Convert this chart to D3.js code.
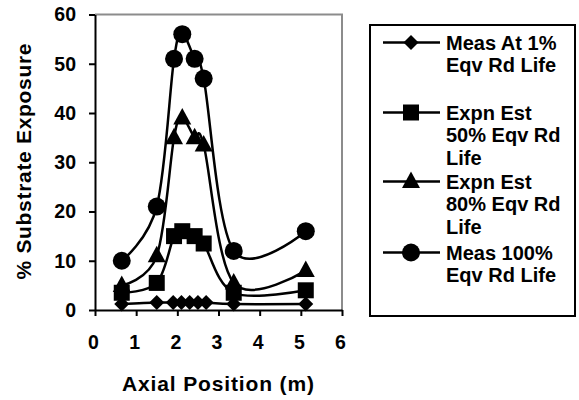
<!DOCTYPE html>
<html>
<head>
<meta charset="utf-8">
<script src="https://cdn.jsdelivr.net/npm/d3@7"></script>
<style>
  html, body { margin: 0; padding: 0; background: #fff; }
  svg { display: block; }
  text { font-family: "Liberation Sans", Arial, sans-serif; font-weight: bold; fill: #000; }
</style>
</head>
<body>
<div id="chart"></div>
<script>
// ---- data ----
const xPositions = [0.65, 1.5, 1.92, 2.12, 2.42, 2.64, 3.37, 5.12];
const diamondPositions = [0.65, 1.5, 1.9, 2.1, 2.3, 2.5, 2.7, 3.37, 5.12];
const meas1 = [1.2, 1.5, 1.5, 1.5, 1.5, 1.5, 1.5, 1.2, 1.2];
const expn50 = [3.5, 5.5, 15, 16, 15, 13.5, 3.5, 4];
const expn80 = [5, 11, 35, 39, 35, 33.5, 5.5, 8];
const meas100 = [10, 21, 51, 56, 51, 47, 12, 16];
const xTicks = [0, 1, 2, 3, 4, 5, 6];
const yTicks = [0, 10, 20, 30, 40, 50, 60];
const legendLabels = [
  ["Meas At 1%", "Eqv Rd Life"],
  ["Expn Est", "50% Eqv Rd", "Life"],
  ["Expn Est", "80% Eqv Rd", "Life"],
  ["Meas 100%", "Eqv Rd Life"]
];
const symbols = ["diamond", "square", "triangle", "circle"];

const series = [
  { xs: diamondPositions, ys: meas1 },
  { xs: xPositions, ys: expn50 },
  { xs: xPositions, ys: expn80 },
  { xs: xPositions, ys: meas100 }
];

// ---- layout ----
const W = 579, H = 400;
const svg = d3.select("#chart").append("svg").attr("width", W).attr("height", H);
svg.append("rect").attr("width", W).attr("height", H).attr("fill", "#fff");

const x = d3.scaleLinear().domain([0, 6]).range([95, 342]);
const y = d3.scaleLinear().domain([0, 60]).range([310, 14.5]);

// plot border (gray top/right)
svg.append("path")
  .attr("d", `M${x(0)},${y(60)}H${x(6)}V${y(0)}`)
  .attr("fill", "none").attr("stroke", "#8c8c8c").attr("stroke-width", 2);

function drawMarker(g, type, cx, cy) {
  if (type === "circle") {
    g.append("circle").attr("cx", cx).attr("cy", cy).attr("r", 9).attr("fill", "#000");
  } else if (type === "square") {
    g.append("rect").attr("x", cx - 8).attr("y", cy - 8).attr("width", 16).attr("height", 16).attr("fill", "#000");
  } else if (type === "triangle") {
    g.append("path").attr("d", `M${cx},${cy - 10}L${cx + 9},${cy + 6.5}L${cx - 9},${cy + 6.5}Z`).attr("fill", "#000");
  } else {
    g.append("path").attr("d", `M${cx},${cy - 7.5}L${cx + 7.5},${cy}L${cx},${cy + 7.5}L${cx - 7.5},${cy}Z`).attr("fill", "#000");
  }
}

const line = d3.line().x(d => x(d[0])).y(d => y(d[1])).curve(d3.curveCardinal.tension(0));

series.forEach((s, i) => {
  const pts = s.xs.map((xv, j) => [xv, s.ys[j]]);
  const g = svg.append("g");
  g.append("path").attr("d", line(pts)).attr("fill", "none").attr("stroke", "#000").attr("stroke-width", 2.5);
  pts.forEach(p => drawMarker(g, symbols[i], x(p[0]), y(p[1])));
});

// axes
const yAxis = svg.append("g").attr("transform", `translate(${x(0)},0)`)
  .call(d3.axisLeft(y).tickValues(yTicks).tickFormat(d3.format("d")).tickSize(6).tickSizeOuter(0).tickPadding(13));
const xAxis = svg.append("g").attr("transform", `translate(0,${y(0)})`)
  .call(d3.axisBottom(x).tickValues(xTicks).tickFormat(d3.format("d")).tickSize(6).tickSizeOuter(0).tickPadding(19));
[yAxis, xAxis].forEach(a => {
  a.select(".domain").attr("stroke", "#000").attr("stroke-width", 2);
  a.selectAll(".tick line").attr("stroke", "#000").attr("stroke-width", 2);
  a.selectAll(".tick text").attr("font-size", 19.5)
    .attr("font-family", "Liberation Sans, Arial, sans-serif").attr("font-weight", "bold").attr("fill", "#000");
});
xAxis.selectAll(".tick text").attr("dx", -2);

// axis titles
svg.append("text")
  .attr("transform", `translate(31,161.5) rotate(-90)`)
  .attr("text-anchor", "middle").attr("font-size", 21)
  .attr("textLength", 236).attr("lengthAdjust", "spacing")
  .text("% Substrate Exposure");
svg.append("text")
  .attr("x", 218).attr("y", 391)
  .attr("text-anchor", "middle").attr("font-size", 21)
  .attr("textLength", 192).attr("lengthAdjust", "spacing")
  .text("Axial Position (m)");

// legend
svg.append("rect").attr("x", 370).attr("y", 25).attr("width", 205).attr("height", 291)
  .attr("fill", "#fff").attr("stroke", "#000").attr("stroke-width", 2);
const baselines = [49.5, 119.5, 188.5, 259.5];
legendLabels.forEach((lines, i) => {
  const g = svg.append("g");
  const b = baselines[i];
  const ly = b - 7;
  g.append("line").attr("x1", 383).attr("x2", 440).attr("y1", ly).attr("y2", ly)
    .attr("stroke", "#000").attr("stroke-width", 2.5);
  drawMarker(g, symbols[i], 411, ly);
  lines.forEach((t, k) => {
    g.append("text").attr("x", 446).attr("y", b + k * 22.5).attr("font-size", 20).text(t);
  });
});
</script>
</body>
</html>
